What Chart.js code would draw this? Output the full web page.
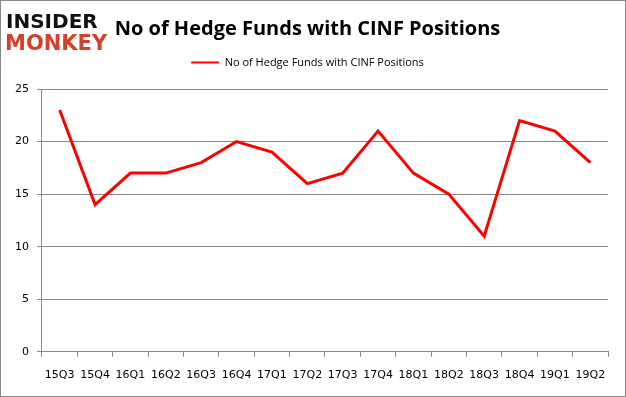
<!DOCTYPE html>
<html>
<head>
<meta charset="utf-8">
<script src="https://cdn.jsdelivr.net/npm/chart.js@4/dist/chart.umd.min.js"></script>
<style>
  html, body { margin: 0; padding: 0; background: #fff; }
  #wrap { width: 626px; height: 397px; position: relative; }
</style>
</head>
<body>
<div id="wrap"><canvas id="chart" width="626" height="397"></canvas></div>
<script>
// Data
const quarters = ['15Q3', '15Q4', '16Q1', '16Q2', '16Q3', '16Q4', '17Q1', '17Q2',
                  '17Q3', '17Q4', '18Q1', '18Q2', '18Q3', '18Q4', '19Q1', '19Q2'];
const fundCounts = [23, 14, 17, 17, 18, 20, 19, 16, 17, 21, 17, 15, 11, 22, 21, 18];
const seriesName = 'No of Hedge Funds with CINF Positions';
const yTicks = [0, 5, 10, 15, 20, 25];

// Logo and outer frame
const decorations = {
    id: 'decorations',
    afterDraw(chart) {
        const ctx = chart.ctx;
        ctx.save();
        ctx.strokeStyle = '#888';
        ctx.lineWidth = 1;
        ctx.strokeRect(0.5, 0.5, chart.width - 1, chart.height - 1);
        ctx.textBaseline = 'alphabetic';
        ctx.textAlign = 'left';
        ctx.font = 'bold 20px "DejaVu Sans"';
        ctx.fillStyle = '#111';
        ctx.fillText('INSIDER', 6, 28);
        ctx.font = 'bold 21px "DejaVu Sans"';
        ctx.fillStyle = '#d4412a';
        ctx.fillText('MONKEY', 5, 50);
        ctx.restore();
    }
};

// Extra room under the legend
const legendGap = {
    id: 'legendGap',
    beforeInit(chart) {
        const fit = chart.legend.fit;
        chart.legend.fit = function () {
            fit.bind(chart.legend)();
            this.height += 11;
        };
    }
};

new Chart(document.getElementById('chart'), {
    type: 'line',
    data: {
        labels: quarters,
        datasets: [{
            label: seriesName,
            data: fundCounts,
            borderColor: '#ff0000',
            backgroundColor: '#ff0000',
            borderWidth: 3,
            pointRadius: 0,
            tension: 0
        }]
    },
    options: {
        responsive: false,
        animation: false,
        layout: { padding: { left: 7, right: 18, top: 4, bottom: 3 } },
        plugins: {
            title: {
                display: true,
                text: 'No of Hedge Funds with CINF Positions',
                font: { family: 'Open Sans', size: 20, weight: 'bold' },
                color: '#000',
                padding: { top: 13, bottom: 6 }
            },
            legend: {
                display: true,
                labels: {
                    boxWidth: 28,
                    boxHeight: 2,
                    font: { family: 'Open Sans', size: 11 },
                    color: '#000',
                    generateLabels(chart) {
                        return Chart.defaults.plugins.legend.labels.generateLabels(chart)
                            .map(item => Object.assign(item, { lineWidth: 0, fillStyle: '#ff0000' }));
                    }
                }
            },
            tooltip: { enabled: false }
        },
        scales: {
            x: {
                offset: true,
                grid: {
                    offset: true,
                    drawOnChartArea: false,
                    drawTicks: true,
                    tickLength: 5,
                    color: '#888'
                },
                border: { color: '#888' },
                ticks: {
                    font: { family: 'DejaVu Sans', size: 11 },
                    color: '#000',
                    maxRotation: 0,
                    autoSkip: false,
                    padding: 12
                }
            },
            y: {
                min: 0,
                max: 25,
                afterBuildTicks(axis) {
                    axis.ticks = yTicks.map(v => ({ value: v }));
                },
                grid: {
                    color: '#888',
                    tickLength: 5
                },
                border: { color: '#888' },
                ticks: {
                    font: { family: 'DejaVu Sans', size: 11 },
                    color: '#000',
                    padding: 8
                }
            }
        }
    },
    plugins: [decorations, legendGap]
});
</script>
</body>
</html>
